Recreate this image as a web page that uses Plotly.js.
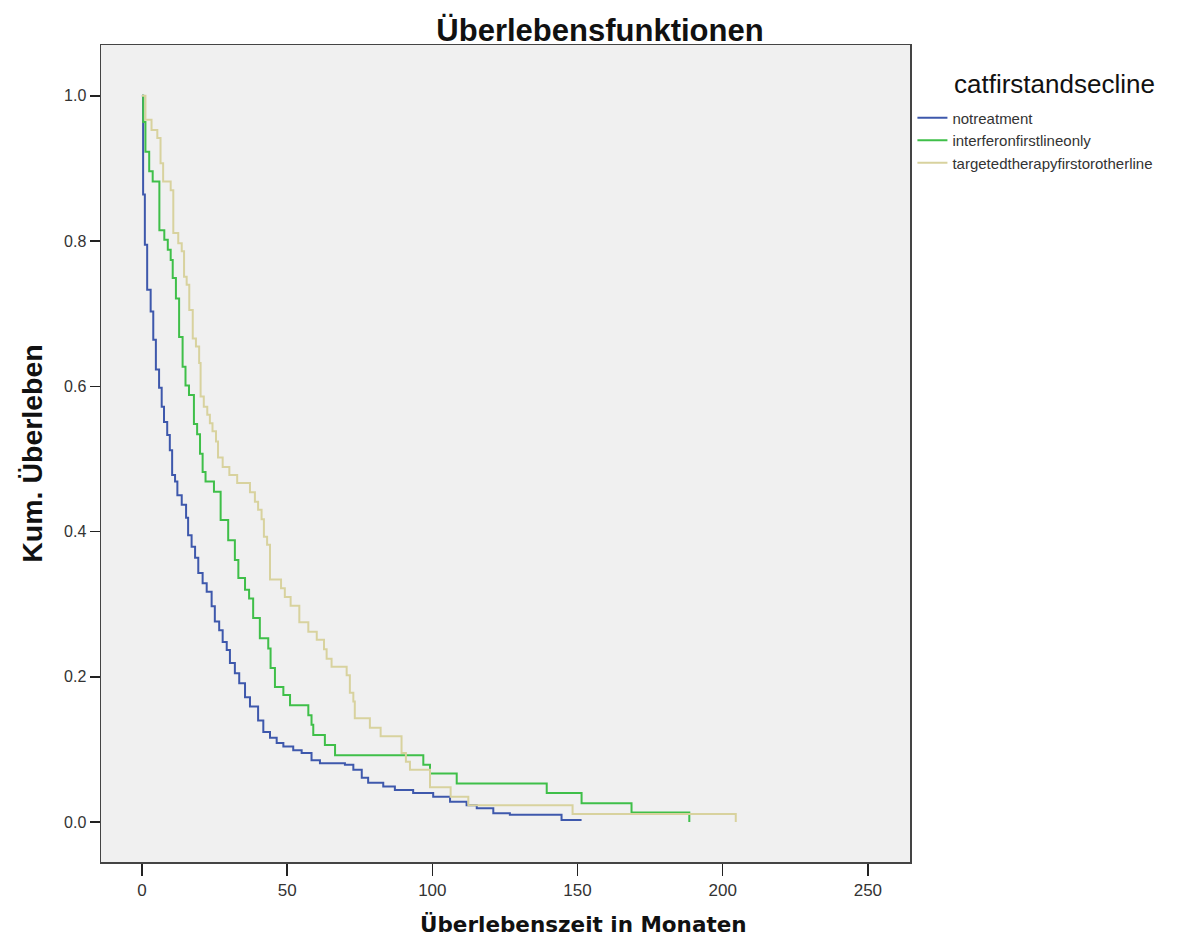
<!DOCTYPE html>
<html>
<head>
<meta charset="utf-8">
<script src="https://cdn.plot.ly/plotly-3.0.1.min.js"></script>
<style>html,body{margin:0;padding:0;background:#fff;}#chart{width:1200px;height:938px;}</style>
</head>
<body>
<div id="chart"></div>
<script>
// Kaplan-Meier step data (months, cumulative survival)
const seriesNames = ["notreatment", "interferonfirstlineonly", "targetedtherapyfirstorotherline"];
const legendTitle = "catfirstandsecline";

const notreatmentTime = [0, 0.4, 1.0, 1.8, 3.0, 3.9, 4.8, 5.9, 6.8, 7.6, 8.7, 9.6, 10.4, 11.4, 12.2, 13.7, 15.2, 15.9, 17.1, 18.3, 19.4, 20.9, 22.3, 24.0, 25.1, 26.6, 27.8, 29.2, 30.3, 32.0, 33.5, 35.5, 37.2, 40.0, 41.8, 44.1, 46.4, 48.7, 52.1, 55.0, 58.4, 61.3, 69.9, 72.8, 75.7, 77.9, 83.1, 87.1, 93.4, 100.3, 106.1, 111.8, 115.3, 121.0, 126.7, 144.5, 151.4];
const notreatmentSurv = [1.0, 0.864, 0.795, 0.733, 0.703, 0.664, 0.623, 0.598, 0.572, 0.551, 0.533, 0.512, 0.478, 0.469, 0.450, 0.437, 0.419, 0.395, 0.379, 0.364, 0.343, 0.329, 0.317, 0.297, 0.276, 0.264, 0.248, 0.237, 0.219, 0.205, 0.191, 0.172, 0.159, 0.140, 0.124, 0.116, 0.109, 0.104, 0.099, 0.095, 0.085, 0.081, 0.079, 0.072, 0.061, 0.054, 0.049, 0.044, 0.040, 0.035, 0.028, 0.023, 0.019, 0.012, 0.010, 0.003, 0.003];

const interferonTime = [0, 0.45, 1.2, 2.5, 3.7, 6.0, 7.7, 8.9, 9.9, 10.6, 11.7, 12.8, 14.0, 15.0, 16.2, 17.9, 19.0, 20.0, 20.9, 21.9, 24.8, 27.1, 29.7, 32.0, 33.2, 35.5, 36.9, 38.3, 40.6, 43.5, 44.3, 45.8, 48.7, 51.0, 57.3, 58.4, 59.0, 63.0, 66.5, 96.9, 99.2, 108.4, 139.4, 151.4, 168.6, 188.5];
const interferonSurv = [1.0, 0.964, 0.923, 0.896, 0.882, 0.815, 0.802, 0.788, 0.774, 0.749, 0.721, 0.668, 0.627, 0.601, 0.588, 0.548, 0.534, 0.507, 0.482, 0.469, 0.455, 0.416, 0.388, 0.361, 0.336, 0.320, 0.308, 0.281, 0.253, 0.239, 0.212, 0.186, 0.175, 0.161, 0.147, 0.134, 0.120, 0.106, 0.092, 0.079, 0.067, 0.053, 0.040, 0.026, 0.013, 0.0];

const targetedTime = [0, 1.2, 3.3, 5.3, 6.4, 7.3, 9.9, 10.8, 12.5, 13.7, 14.5, 15.4, 16.3, 17.5, 18.6, 19.7, 20.2, 21.3, 22.5, 23.4, 24.3, 25.5, 26.2, 27.8, 30.1, 32.8, 37.2, 38.9, 40.0, 41.2, 42.0, 43.1, 44.1, 47.9, 49.2, 51.2, 54.2, 57.3, 60.2, 62.7, 63.6, 65.3, 70.5, 71.6, 72.8, 73.3, 78.5, 82.2, 89.4, 90.9, 92.3, 99.2, 106.3, 112.4, 148.3, 204.5];
const targetedSurv = [1.0, 0.967, 0.953, 0.942, 0.907, 0.882, 0.870, 0.811, 0.797, 0.786, 0.751, 0.740, 0.705, 0.666, 0.655, 0.632, 0.586, 0.572, 0.561, 0.549, 0.538, 0.524, 0.502, 0.489, 0.478, 0.467, 0.454, 0.441, 0.430, 0.417, 0.393, 0.382, 0.334, 0.322, 0.310, 0.298, 0.275, 0.262, 0.251, 0.238, 0.225, 0.214, 0.202, 0.178, 0.166, 0.143, 0.130, 0.118, 0.095, 0.083, 0.072, 0.048, 0.035, 0.023, 0.011, 0.0];

const xTickValues = [0, 50, 100, 150, 200, 250];
const yTickValues = [0.0, 0.2, 0.4, 0.6, 0.8, 1.0];

const seriesColors = ["#3e58ac", "#3fbf49", "#d8d29e"];
const times = [notreatmentTime, interferonTime, targetedTime];
const survs = [notreatmentSurv, interferonSurv, targetedSurv];

const traces = seriesNames.map((name, i) => ({
  type: "scatter",
  mode: "lines",
  name: name,
  x: times[i],
  y: survs[i],
  line: {shape: "hv", color: seriesColors[i], width: 2}
}));

const layout = {
  width: 1200,
  height: 938,
  margin: {l: 101, r: 290, t: 45, b: 76},
  paper_bgcolor: "#ffffff",
  plot_bgcolor: "#f0f0f0",
  font: {family: "Liberation Sans, Arial, sans-serif", color: "#222"},
  title: {
    text: "<b>Überlebensfunktionen</b>",
    font: {family: "Liberation Sans, Arial, sans-serif", size: 31, color: "#111"},
    x: 0.5, xref: "container", xanchor: "center",
    y: 0.968, yref: "container", yanchor: "middle"
  },
  xaxis: {
    range: [-14.1, 264.5],
    tickvals: xTickValues,
    ticktext: xTickValues.map(String),
    ticks: "outside", ticklen: 12, tickwidth: 1.5, tickcolor: "#222",
    tickfont: {family: "Liberation Sans Narrow, Liberation Sans, Arial, sans-serif", size: 17, color: "#333"},
    showline: true, linecolor: "#444", linewidth: 1.5, mirror: true,
    showgrid: false, zeroline: false
  },
  yaxis: {
    range: [-0.055, 1.070],
    tickvals: yTickValues,
    ticktext: yTickValues.map(v => v.toFixed(1)),
    ticks: "outside", ticklen: 10, tickwidth: 1.5, tickcolor: "#222",
    tickfont: {family: "Liberation Sans, Arial, sans-serif", size: 16, color: "#333"},
    showline: true, linecolor: "#444", linewidth: 1.5, mirror: true,
    showgrid: false, zeroline: false,
    title: {text: "<b>Kum. Überleben</b>", font: {family: "Liberation Sans, Arial, sans-serif", size: 28.5, color: "#111"}, standoff: 13}
  },
  legend: {
    x: 1.003, xanchor: "left",
    y: 0.9307, yanchor: "top",
    bgcolor: "rgba(0,0,0,0)",
    font: {family: "Liberation Sans, Arial, sans-serif", size: 15, color: "#333"},
    tracegroupgap: 0
  },
  annotations: [{
    text: "<b>Überlebenszeit in Monaten</b>",
    xref: "paper", yref: "paper",
    x: 0.597, y: -0.077, xanchor: "center", yanchor: "middle",
    showarrow: false,
    font: {family: "DejaVu Sans, Verdana, sans-serif", size: 21.5, color: "#111"}
  }, {
    text: legendTitle,
    xref: "paper", yref: "paper",
    x: 1.179, y: 0.952, xanchor: "center", yanchor: "middle",
    showarrow: false,
    font: {family: "Liberation Sans, Arial, sans-serif", size: 26, color: "#111"}
  }]
};

Plotly.newPlot("chart", traces, layout, {displayModeBar: false, staticPlot: true});
</script>
</body>
</html>
